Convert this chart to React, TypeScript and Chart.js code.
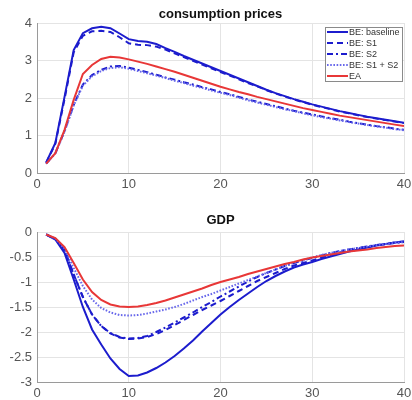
import React, { useEffect, useRef } from "react";
import { Chart, registerables } from "chart.js";

Chart.register(...registerables);

// ---------- data ----------
const QUARTERS = [
  1, 2, 3, 4, 5, 6, 7, 8, 9, 10, 11, 12, 13, 14, 15, 16, 17, 18, 19, 20,
  21, 22, 23, 24, 25, 26, 27, 28, 29, 30, 31, 32, 33, 34, 35, 36, 37, 38, 39, 40,
];

const SERIES_LABELS = ["BE: baseline", "BE: S1", "BE: S2", "BE: S1 + S2", "EA"];

const CPI_BASELINE = [0.28, 0.8, 2.03, 3.28, 3.73, 3.86, 3.9, 3.86, 3.72, 3.57, 3.52, 3.5, 3.44, 3.33, 3.23, 3.12, 3.02, 2.92, 2.82, 2.72, 2.62, 2.52, 2.42, 2.32, 2.22, 2.13, 2.05, 1.97, 1.9, 1.83, 1.77, 1.71, 1.65, 1.6, 1.55, 1.5, 1.46, 1.42, 1.38, 1.34];
const CPI_S1 = [0.27, 0.78, 1.97, 3.22, 3.66, 3.78, 3.79, 3.76, 3.62, 3.46, 3.42, 3.41, 3.37, 3.29, 3.19, 3.09, 2.99, 2.89, 2.79, 2.69, 2.6, 2.5, 2.4, 2.31, 2.21, 2.12, 2.04, 1.96, 1.89, 1.82, 1.76, 1.7, 1.64, 1.59, 1.54, 1.49, 1.45, 1.41, 1.37, 1.33];
const CPI_S2 = [0.25, 0.53, 1.12, 1.82, 2.36, 2.61, 2.75, 2.84, 2.85, 2.81, 2.75, 2.69, 2.62, 2.55, 2.49, 2.42, 2.36, 2.29, 2.23, 2.16, 2.1, 2.03, 1.96, 1.9, 1.84, 1.78, 1.72, 1.66, 1.61, 1.56, 1.51, 1.46, 1.42, 1.37, 1.33, 1.29, 1.25, 1.22, 1.18, 1.15];
const CPI_S1S2 = [0.25, 0.52, 1.1, 1.8, 2.33, 2.58, 2.72, 2.8, 2.82, 2.78, 2.72, 2.66, 2.6, 2.53, 2.46, 2.4, 2.33, 2.27, 2.2, 2.14, 2.08, 2.01, 1.94, 1.88, 1.82, 1.76, 1.7, 1.65, 1.59, 1.54, 1.49, 1.45, 1.4, 1.36, 1.32, 1.28, 1.24, 1.21, 1.17, 1.14];
const CPI_EA = [0.25, 0.53, 1.15, 1.95, 2.64, 2.88, 3.04, 3.1, 3.08, 3.03, 2.97, 2.91, 2.84, 2.77, 2.7, 2.62, 2.54, 2.46, 2.38, 2.3, 2.23, 2.16, 2.1, 2.03, 1.97, 1.91, 1.85, 1.79, 1.73, 1.68, 1.63, 1.58, 1.53, 1.49, 1.45, 1.41, 1.37, 1.33, 1.29, 1.25];

const GDP_BASELINE = [-0.05, -0.15, -0.42, -0.95, -1.5, -1.95, -2.25, -2.53, -2.74, -2.88, -2.87, -2.81, -2.72, -2.61, -2.48, -2.33, -2.17, -1.99, -1.82, -1.65, -1.5, -1.36, -1.23, -1.1, -0.98, -0.88, -0.79, -0.71, -0.65, -0.6, -0.54, -0.49, -0.44, -0.39, -0.35, -0.31, -0.27, -0.24, -0.21, -0.19];
const GDP_S1 = [-0.05, -0.14, -0.36, -0.85, -1.3, -1.65, -1.88, -2.03, -2.11, -2.14, -2.13, -2.1, -2.04, -1.96, -1.86, -1.76, -1.66, -1.56, -1.47, -1.38, -1.28, -1.18, -1.08, -0.98, -0.9, -0.82, -0.74, -0.67, -0.62, -0.57, -0.51, -0.46, -0.41, -0.37, -0.33, -0.3, -0.27, -0.24, -0.21, -0.19];
const GDP_S2 = [-0.05, -0.14, -0.36, -0.85, -1.3, -1.65, -1.88, -2.02, -2.1, -2.13, -2.12, -2.08, -2.0, -1.91, -1.81, -1.71, -1.61, -1.5, -1.4, -1.29, -1.19, -1.09, -0.99, -0.9, -0.82, -0.75, -0.68, -0.62, -0.57, -0.52, -0.47, -0.42, -0.38, -0.35, -0.32, -0.29, -0.26, -0.24, -0.22, -0.2];
const GDP_S1S2 = [-0.05, -0.13, -0.33, -0.72, -1.08, -1.35, -1.52, -1.61, -1.66, -1.67, -1.66, -1.63, -1.59, -1.55, -1.5, -1.44, -1.37, -1.3, -1.24, -1.17, -1.1, -1.03, -0.96, -0.89, -0.82, -0.75, -0.68, -0.62, -0.56, -0.51, -0.46, -0.42, -0.38, -0.35, -0.32, -0.29, -0.26, -0.24, -0.22, -0.2];
const GDP_EA = [-0.05, -0.12, -0.3, -0.62, -0.95, -1.2, -1.36, -1.45, -1.49, -1.5, -1.49, -1.46, -1.42, -1.37, -1.31, -1.25, -1.19, -1.13, -1.06, -1.0, -0.95, -0.9, -0.84, -0.79, -0.74, -0.69, -0.64, -0.6, -0.55, -0.51, -0.48, -0.45, -0.42, -0.39, -0.37, -0.35, -0.32, -0.3, -0.28, -0.27];

// ---------- styles ----------
const FONT = "'Liberation Sans', Arial, Helvetica, sans-serif";
const BLUE = "rgb(28,28,205)";
const BLUE_LIGHT = "rgb(105,105,235)";
const RED = "rgb(232,55,55)";

const STYLES = [
  { color: BLUE, dash: [] as number[], width: 2 },
  { color: BLUE, dash: [6, 4], width: 2 },
  { color: BLUE, dash: [6, 3, 2, 3], width: 2 },
  { color: BLUE_LIGHT, dash: [1.6, 1.6], width: 2 },
  { color: RED, dash: [] as number[], width: 2 },
];

function buildDatasets(series: number[][]) {
  return series.map((vals, i) => ({
    label: SERIES_LABELS[i],
    data: QUARTERS.map((q, k) => ({ x: q, y: vals[k] })),
    borderColor: STYLES[i].color,
    backgroundColor: STYLES[i].color,
    borderDash: STYLES[i].dash,
    borderWidth: STYLES[i].width,
    pointRadius: 0,
    tension: 0,
    fill: false,
    order: series.length - i,
  }));
}

const titlePlugin = {
  id: "panelTitle",
  afterDraw(chart: any, _args: any, opts: any) {
    const { ctx, chartArea } = chart;
    ctx.save();
    ctx.font = `bold 13px ${FONT}`;
    ctx.fillStyle = "#111";
    ctx.textAlign = "center";
    ctx.textBaseline = "middle";
    ctx.fillText(opts.text, (chartArea.left + chartArea.right) / 2, chartArea.top - opts.offset);
    ctx.restore();
  },
};

const boxLegendPlugin = {
  id: "boxLegend",
  afterDraw(chart: any, _args: any, opts: any) {
    if (!opts.show) return;
    const { ctx, chartArea } = chart;
    const w = 77;
    const rowH = 11;
    const ds = chart.data.datasets;
    const h = ds.length * rowH - 1;
    const x0 = chartArea.right - w - 2;
    const y0 = chartArea.top + 4;
    ctx.save();
    ctx.fillStyle = "#fff";
    ctx.fillRect(x0, y0, w, h);
    ctx.strokeStyle = "#8a8a8a";
    ctx.lineWidth = 1;
    ctx.strokeRect(x0 + 0.5, y0 + 0.5, w, h);
    ctx.font = `9px ${FONT}`;
    ctx.textBaseline = "middle";
    ctx.textAlign = "left";
    ds.forEach((d: any, i: number) => {
      const y = y0 + 5 + i * rowH;
      ctx.strokeStyle = d.borderColor;
      ctx.lineWidth = d.borderWidth;
      ctx.setLineDash(d.borderDash || []);
      ctx.beginPath();
      ctx.moveTo(x0 + 2, y);
      ctx.lineTo(x0 + 23, y);
      ctx.stroke();
      ctx.setLineDash([]);
      ctx.fillStyle = "#333";
      ctx.fillText(d.label, x0 + 24, y + 0.5);
    });
    ctx.restore();
  },
};

type PanelProps = {
  title: string;
  series: number[][];
  yMin: number;
  yMax: number;
  yStep: number;
  padTop: number;
  xAxisHeight: number;
  titleOffset: number;
  legend: boolean;
};

function Panel(p: PanelProps) {
  const ref = useRef<HTMLCanvasElement>(null);
  useEffect(() => {
    if (!ref.current) return;
    const chart = new Chart(ref.current, {
      type: "line",
      data: { datasets: buildDatasets(p.series) as any },
      plugins: [titlePlugin, boxLegendPlugin],
      options: {
        responsive: false,
        animation: false,
        layout: { padding: { top: p.padTop, right: 0, left: 0, bottom: 0 } },
        plugins: {
          legend: { display: false },
          tooltip: { enabled: false },
          panelTitle: { text: p.title, offset: p.titleOffset },
          boxLegend: { show: p.legend },
        } as any,
        scales: {
          x: {
            type: "linear",
            min: 0,
            max: 40,
            ticks: {
              stepSize: 10,
              padding: 4,
              color: "#555",
              font: { family: FONT, size: 13 },
              maxRotation: 0,
            },
            grid: { color: "#e4e4e4", drawTicks: false },
            border: { color: "#9a9a9a" },
            afterFit: (s: any) => {
              s.height = p.xAxisHeight;
              s.paddingRight = 8;
            },
          },
          y: {
            min: p.yMin,
            max: p.yMax,
            ticks: {
              stepSize: p.yStep,
              padding: 5,
              color: "#555",
              font: { family: FONT, size: 13 },
              callback: (v: any) => String(v),
            },
            grid: { color: "#e4e4e4", drawTicks: false },
            border: { color: "#9a9a9a" },
            afterFit: (s: any) => {
              s.width = 37;
            },
          },
        },
      },
    });
    return () => chart.destroy();
  }, []);
  return <canvas ref={ref} width={412} height={200} style={{ display: "block", width: 412, height: 200 }} />;
}

export default function App() {
  return (
    <div style={{ position: "absolute", left: 0, top: 0, width: 412, height: 400, background: "#fff" }}>
      <Panel
        title="consumption prices"
        series={[CPI_BASELINE, CPI_S1, CPI_S2, CPI_S1S2, CPI_EA]}
        yMin={0}
        yMax={4}
        yStep={1}
        padTop={23}
        xAxisHeight={27}
        titleOffset={9}
        legend={true}
      />
      <Panel
        title="GDP"
        series={[GDP_BASELINE, GDP_S1, GDP_S2, GDP_S1S2, GDP_EA]}
        yMin={-3}
        yMax={0}
        yStep={0.5}
        padTop={32}
        xAxisHeight={18}
        titleOffset={12}
        legend={false}
      />
    </div>
  );
}
